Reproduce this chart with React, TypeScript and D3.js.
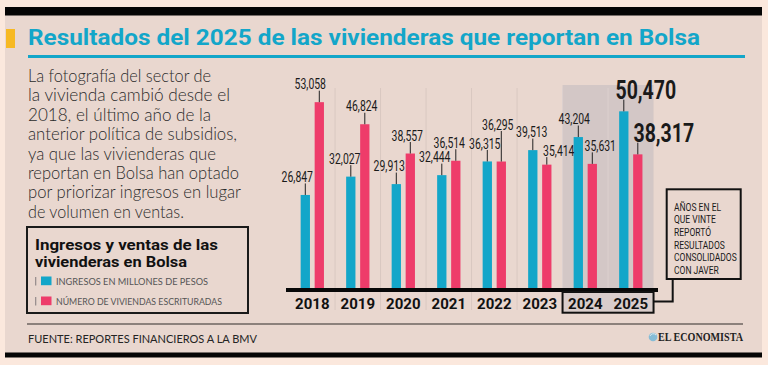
import React from 'react';
import * as d3 from 'd3';

// ---- data ----
const years = ['2018', '2019', '2020', '2021', '2022', '2023', '2024', '2025'];
const ingresos = [26847, 32027, 29913, 32444, 36315, 39513, 43204, 50470];
const viviendas = [53058, 46824, 38557, 36514, 36295, 35414, 35631, 38317];
const highlightedYears = ['2024', '2025'];
const latestYear = '2025';

const titleText = 'Resultados del 2025 de las vivienderas que reportan en Bolsa';
const introLines = [
  'La fotografía del sector de',
  'la vivienda cambió desde el',
  '2018, el último año de la',
  'anterior política de subsidios,',
  'ya que las vivienderas que',
  'reportan en Bolsa han optado',
  'por priorizar ingresos en lugar',
  'de volumen en ventas.',
];
const legendTitle = ['Ingresos y ventas de las', 'vivienderas en Bolsa'];
const legendItems = ['INGRESOS EN MILLONES DE PESOS', 'NÚMERO DE VIVIENDAS ESCRITURADAS'];
const noteLines = ['AÑOS EN EL', 'QUE VINTE', 'REPORTÓ', 'RESULTADOS', 'CONSOLIDADOS', 'CON JAVER'];
const sourceText = 'FUENTE: REPORTES FINANCIEROS A LA BMV';
const brandText = 'EL ECONOMISTA';

// ---- layout tweaks (label nudges, not data) ----
const ingDx = [-8, -6, -7, -7, -2.5, -1, -4, 22];
const vivDx = [-9, -3, -3, -6.5, -3.5, 12, 8, 26];
const vivLift = [0, 0, 0, 0, 19, -4, 0, 0];
const introWidths = [183, 202, 183, 209, 188, 211, 213, 156];

const W = 768;
const H = 365;
const CYAN = '#13a6c9';
const PINK = '#ee3c6a';
const PANEL = '#e9d7cf';
const OUTER = '#fbe8dd';
const SHADE = '#d3c7c6';
const FONT = 'Roboto, "DejaVu Sans", sans-serif';
const LIGHT = 'Lato, "Open Sans", sans-serif';

const fmt = d3.format(',');

export default function App() {
  const x = d3.scaleBand<string>().domain(years).range([289.55, 653.55]).padding(0);
  const sub = d3
    .scaleBand<string>()
    .domain(['ing', 'viv'])
    .range([-11.65, 11.65])
    .paddingInner(0.336);
  const y = d3.scaleLinear().domain([0, 60000]).range([290, 77.6]);
  const cx = (yr: string) => (x(yr) as number) + x.bandwidth() / 2;

  const hiStart = x(highlightedYears[0]) as number;
  const hiEnd = (x(highlightedYears[highlightedYears.length - 1]) as number) + x.bandwidth();

  const series = [
    { key: 'ing', values: ingresos, color: CYAN, dx: ingDx, lift: ingresos.map(() => 0) },
    { key: 'viv', values: viviendas, color: PINK, dx: vivDx, lift: vivLift },
  ];

  return (
    <svg
      width={W}
      height={H}
      viewBox={`0 0 ${W} ${H}`}
      style={{ position: 'absolute', left: 0, top: 0, display: 'block' }}
    >
      <rect x={0} y={0} width={W} height={H} fill={OUTER} />
      <rect x={5} y={15} width={757} height={338} fill={PANEL} />
      <rect x={5} y={7} width={757} height={8.5} fill="#050505" />
      <rect x={5} y={352.5} width={757} height={5} fill="#050505" />

      {/* title */}
      <rect x={6} y={29} width={9} height={19} fill="#f7b923" />
      <text
        x={28}
        y={45}
        fontFamily={FONT}
        fontWeight={700}
        fontSize={22.5}
        fill={CYAN}
        textLength={672}
        lengthAdjust="spacingAndGlyphs"
      >
        {titleText}
      </text>
      <rect x={28} y={55} width={717} height={3} fill={CYAN} />

      {/* intro paragraph */}
      {introLines.map((l, i) => (
        <text
          key={i}
          x={28}
          y={82 + i * 19.4}
          fontFamily={LIGHT}
          fontWeight={300}
          fontSize={17}
          fill="#2b2b2b"
          textLength={introWidths[i]}
          lengthAdjust="spacingAndGlyphs"
        >
          {l}
        </text>
      ))}

      {/* legend */}
      <rect x={27} y={227} width={221} height={86} fill="none" stroke="#1a1a1a" strokeWidth={2} />
      {legendTitle.map((l, i) => (
        <text
          key={i}
          x={35}
          y={249.5 + i * 17}
          fontFamily={FONT}
          fontWeight={700}
          fontSize={14.5}
          fill="#111"
          textLength={i === 0 ? 183 : 152}
          lengthAdjust="spacingAndGlyphs"
        >
          {l}
        </text>
      ))}
      {legendItems.map((l, i) => (
        <g key={i} transform={`translate(0,${i * 20})`}>
          <rect x={35} y={277} width={1.3} height={8.5} fill="#9a9090" />
          <rect x={41} y={276.5} width={10.5} height={8.7} fill={i === 0 ? CYAN : PINK} />
          <text
            x={56}
            y={284.6}
            fontFamily={LIGHT}
            fontWeight={400}
            fontSize={8.6}
            fill="#555"
            textLength={i === 0 ? 152 : 166}
            lengthAdjust="spacingAndGlyphs"
          >
            {l}
          </text>
        </g>
      ))}

      {/* footer */}
      <rect x={27} y={323} width={716} height={2} fill="#8c817c" />
      <text
        x={28}
        y={342.7}
        fontFamily={LIGHT}
        fontSize={11}
        fill="#242424"
        textLength={229}
        lengthAdjust="spacingAndGlyphs"
      >
        {sourceText}
      </text>
      <circle cx={653} cy={337} r={4.3} fill="#86bcd6" />
      <path d="M650,336 a3.5,3.5 0 0,1 6,-1" stroke="#dbe9ee" strokeWidth={1} fill="none" />
      <text
        x={658}
        y={341}
        fontFamily='"Liberation Serif", "DejaVu Serif", serif'
        fontWeight={700}
        fontSize={11.5}
        fill="#222"
        textLength={85}
        lengthAdjust="spacingAndGlyphs"
      >
        {brandText}
      </text>

      {/* highlighted years shading */}
      <rect x={hiStart} y={85} width={hiEnd - hiStart} height={290 - 85} fill={SHADE} />

      {/* band separators */}
      {years.slice(1).map((yr) => (
        <line
          key={yr}
          x1={x(yr) as number}
          x2={x(yr) as number}
          y1={88}
          y2={310}
          stroke={highlightedYears.includes(yr) ? '#dcd0ce' : '#d9c8c1'}
          strokeWidth={1}
        />
      ))}

      {/* bars */}
      {series.map((s) =>
        years.map((yr, i) => {
          const bx = cx(yr) + (sub(s.key) as number);
          return (
            <rect
              key={s.key + yr}
              x={bx}
              y={y(s.values[i])}
              width={sub.bandwidth()}
              height={290 - y(s.values[i])}
              fill={s.color}
            />
          );
        })
      )}

      {/* value labels with leaders */}
      {series.map((s) =>
        years.map((yr, i) => {
          const big = yr === latestYear;
          const top = y(s.values[i]);
          const barCx = cx(yr) + (sub(s.key) as number) + sub.bandwidth() / 2;
          const center = top - (big ? 21.7 : 18) - s.lift[i];
          const leaderTop = center + (big ? 10 : 6.5);
          const baseline = center + (big ? 8.9 : 5.2);
          return (
            <g key={'l' + s.key + yr}>
              <line x1={barCx} x2={barCx} y1={top} y2={leaderTop} stroke="#222" strokeWidth={1} />
              <text
                transform={`translate(${barCx + s.dx[i]},${baseline}) scale(${big ? 0.78 : 0.72},1)`}
                textAnchor="middle"
                fontFamily={FONT}
                fontWeight={big ? 700 : 400}
                fontSize={big ? 25 : 14.5}
                fill="#1a1a1a"
              >
                {fmt(s.values[i])}
              </text>
            </g>
          );
        })
      )}

      {/* axis */}
      <rect x={286} y={288} width={372} height={4} fill="#080808" />
      <rect
        x={hiStart}
        y={292}
        width={hiEnd - hiStart}
        height={20.7}
        fill="#d9cdcb"
        stroke="#111"
        strokeWidth={2}
      />
      {years.map((yr) => (
        <text
          key={'y' + yr}
          x={cx(yr)}
          y={308.5}
          textAnchor="middle"
          fontFamily={FONT}
          fontWeight={700}
          fontSize={15}
          fill="#111"
        >
          {yr}
        </text>
      ))}

      {/* note box */}
      <path d={`M${hiEnd},301.5 H672.7 V279`} fill="none" stroke="#111" strokeWidth={2} />
      <rect x={666.7} y={189.3} width={74} height={89.7} fill="none" stroke="#111" strokeWidth={2} />
      {noteLines.map((l, i) => (
        <text
          key={i}
          transform={`translate(674,${210.8 + i * 12.6}) scale(0.74,1)`}
          fontFamily={FONT}
          fontWeight={400}
          fontSize={11.5}
          fill="#1a1a1a"
        >
          {l}
        </text>
      ))}
    </svg>
  );
}
